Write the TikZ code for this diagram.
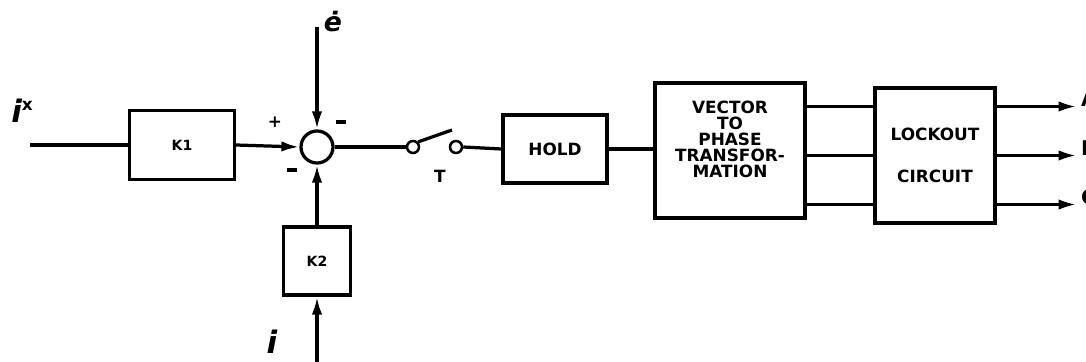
\documentclass[tikz,border=0pt]{standalone}
\usepackage{amsmath,amssymb}
\usepackage{fontspec}
\setmainfont{DejaVu Sans}
\usetikzlibrary{arrows.meta}

\begin{document}
\begin{tikzpicture}[
  x=0.025cm, y=-0.025cm,
  box/.style={draw, line width=2.3pt, align=center, inner sep=0pt, font=\bfseries},
  wire/.style={line width=2.3pt},
  arrow/.style={-{Latex[length=4.5mm,width=2.6mm]}, line width=2.3pt},
  contact/.style={circle, draw, line width=1.8pt, fill=white, minimum size=3mm, inner sep=0pt},
  sign/.style={font=\bfseries\large},
  sig/.style={font=\fontsize{22}{24}\selectfont\bfseries\itshape}
]
\useasboundingbox (0,0) rectangle (1086,362);

\node[box, minimum width=2.625cm, minimum height=1.725cm] (k1) at (182,145) {K1};
\node[circle, draw, line width=2.3pt, minimum size=0.8cm, inner sep=0pt] (sum) at (317,147) {};
\node[box, minimum width=1.675cm, minimum height=1.7cm] (k2) at (317,261) {K2};
\node[contact] (c1) at (413,147) {};
\node[contact] (c2) at (456,147) {};
\node[box, font=\bfseries\large, minimum width=2.6cm, minimum height=1.7cm] (hold) at (555,149) {HOLD};
\node[box, font=\bfseries\large, minimum width=3.75cm, minimum height=3.375cm] (vec) at (730,150.5)
  {VECTOR\\[-2.5pt]TO\\[-2.5pt]PHASE\\[-2.5pt]TRANSFOR-\\[-2.5pt]MATION\\[2pt]};
\node[box, font=\bfseries\large, minimum width=3cm, minimum height=3.375cm] (lock) at (935,155.5)
  {LOCKOUT\\[0.55cm]CIRCUIT};

% signals coming in
\coordinate (ixin) at (30,145);
\coordinate (ein) at (317,27);
\coordinate (iin) at (317,365);
\coordinate (arm) at (452,130);
\node[sig] at (22,111) {i\raisebox{3mm}{\large\upshape x}};
\node[sig, font=\fontsize{19}{21}\selectfont\bfseries\itshape] at (333,22) {ė};
\node[sig] at (272,342) {i};

\draw[wire] (ixin) -- (k1.west);
\draw[arrow] (k1.east) -- (sum.west);
\draw[arrow] (ein) -- (sum.north);
\draw[arrow] (k2.north) -- (sum.south);
\draw[arrow] (iin) -- (k2.south);
\node[sign] at (275,122) {+};
\node[sign] at (341,122) {\rule{2.4mm}{0.8mm}};
\node[sign] at (292,170) {\rule{2.4mm}{0.8mm}};

% sampler
\draw[wire] (sum.east) -- (c1.west);
\draw[wire] (c1.north east) -- (arm);
\draw[wire] (c2.east) -- (hold.west);
\node[sign] at (440,176) {T};
\draw[wire] (hold.east) -- (vec.west |- hold.east);

% three phases
\foreach \n/\s/\t in {a/1.225/A,b/0/B,c/-1.225/C} {
  \coordinate (in\n) at ([yshift=\s cm]lock.west);
  \coordinate (out\n) at ([yshift=\s cm]lock.east);
  \draw[wire] (vec.east |- in\n) -- (in\n);
  \draw[arrow] (out\n) -- ++(80,0) node[anchor=base west, inner sep=0pt, xshift=2pt, font=\bfseries\Large] {\t};
}
\end{tikzpicture}
\end{document}
